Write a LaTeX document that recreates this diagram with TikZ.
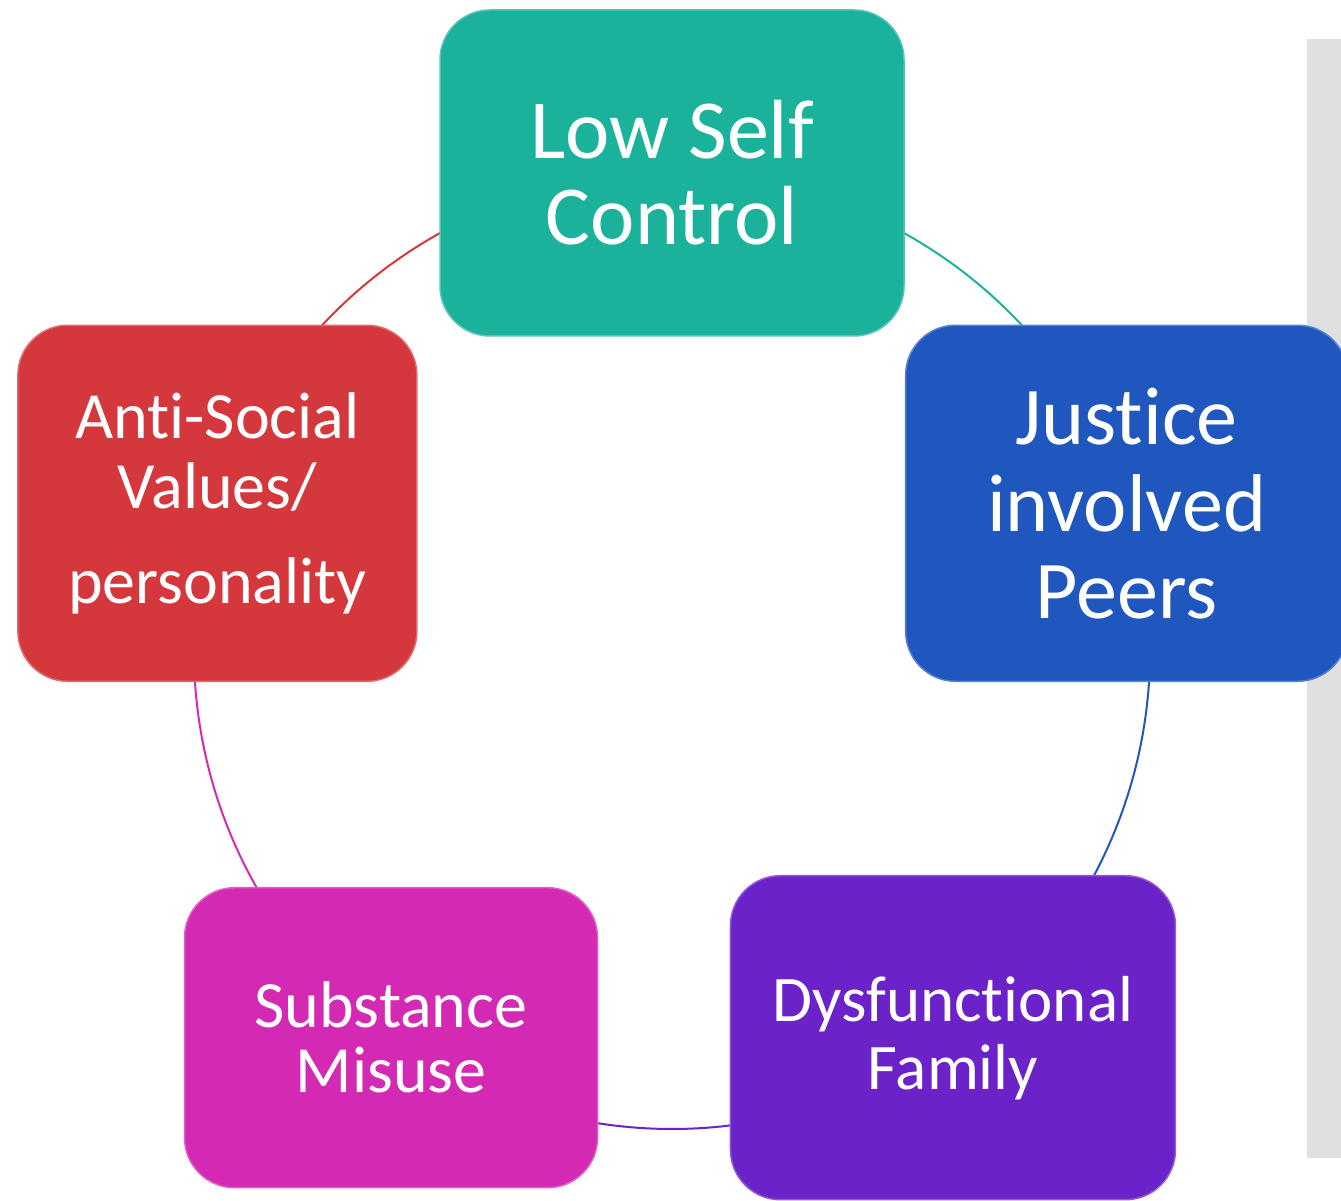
\documentclass[tikz,border=0pt]{standalone}
\usepackage{fontspec}
\setmainfont[Ligatures=NoCommon]{Carlito}
\usetikzlibrary{calc,backgrounds}

\definecolor{selfteal}{HTML}{1BB29C}
\definecolor{peerblue}{HTML}{2057BE}
\definecolor{familypurple}{HTML}{6C22C9}
\definecolor{misusemagenta}{HTML}{D42AB3}
\definecolor{valuesred}{HTML}{D4373C}
\definecolor{stripgrey}{HTML}{E0E0E0}

\tikzset{
    factor/.style={draw=#1!75!white, fill=#1, line width=1.5pt, rounded corners=50pt,
        text=white, align=center, inner sep=0pt},
    ringarc/.style={draw=#1, line width=2pt}
}

\begin{document}
\begin{tikzpicture}[x=1pt,y=1pt]
                \useasboundingbox (0,0) rectangle (1341,1200);
                \fill[stripgrey] (1307,42) rectangle (1341,1161);
                \coordinate (c) at (672,549);

                \node[factor=selfteal, minimum width=464pt, minimum height=326pt,
                    font=\fontsize{84}{86}\selectfont] (self) at ($(c)+(90:478)$) {Low Self\\Control};
                \node[factor=peerblue, minimum width=442pt, minimum height=356pt,
                    font=\fontsize{82}{87}\selectfont] (peers) at ($(c)+(18:478)$) {Justice\\involved\\Peers};
                \node[factor=familypurple, minimum width=445pt, minimum height=324pt,
                    font=\fontsize{65}{68}\selectfont] (family) at ($(c)+(-54:478)$) {Dysfunctional\\Family};
                \node[factor=misusemagenta, minimum width=413pt, minimum height=300pt,
                    font=\fontsize{66}{65}\selectfont] (misuse) at ($(c)+(-126:478)$) {Substance\\Misuse};
                \node[factor=valuesred, minimum width=399pt, minimum height=356pt,
                    font=\fontsize{66}{70}\selectfont] (values) at ($(c)+(162:478)$) {Anti-Social\\Values/\\[25pt]personality};

                \begin{scope}[on background layer]
                \draw[ringarc=selfteal] (self.center) arc[start angle=90, end angle=18, radius=478];
                \draw[ringarc=peerblue] (peers.center) arc[start angle=18, end angle=-54, radius=478];
                \draw[ringarc=familypurple] (family.center) arc[start angle=-54, end angle=-126, radius=478];
                \draw[ringarc=misusemagenta] (misuse.center) arc[start angle=-126, end angle=-198, radius=478];
                \draw[ringarc=valuesred] (values.center) arc[start angle=162, end angle=90, radius=478];
                \end{scope}
            \end{tikzpicture}
\end{document}
